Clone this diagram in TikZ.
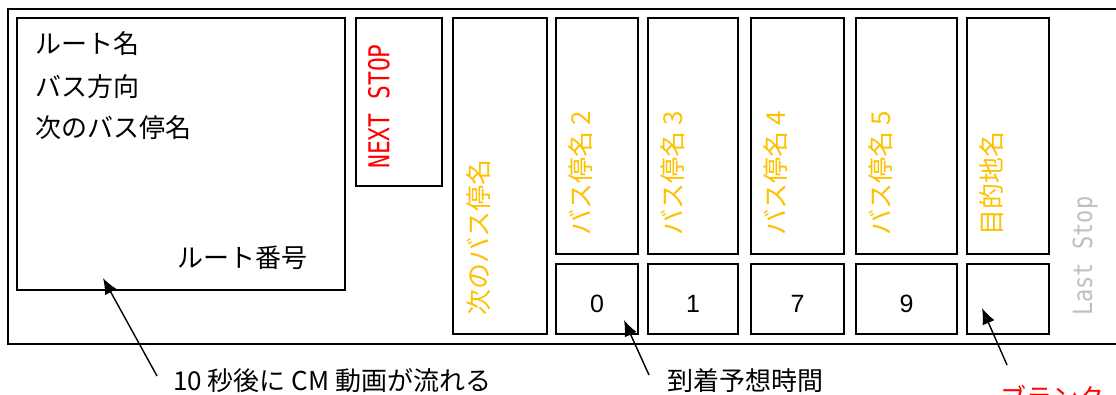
\documentclass[tikz,border=0pt]{standalone}
\usepackage{fontspec}
\usepackage{graphicx}
\setmainfont{Noto Sans CJK JP}
\newfontfamily\monofont{DejaVu Sans Mono}
\newfontfamily\numfont{Liberation Sans}
\usetikzlibrary{arrows.meta}
\definecolor{stoporange}{HTML}{FFC000}
\definecolor{laststop}{HTML}{BFBFBF}

\begin{document}
\begin{tikzpicture}[x=1pt, y=-1pt,
    panel/.style={draw, line width=1.6pt},
    jp/.style={font=\fontsize{26}{30}\selectfont, inner sep=0pt},
    stopname/.style={jp, text=stoporange, rotate=90, anchor=north west},
    eta/.style={font=\numfont\fontsize{25}{28}\selectfont, inner sep=0pt},
    callout/.style={-{Latex[length=16pt,width=13pt]}, line width=1.4pt}]
    \useasboundingbox (0,0) rectangle (1116,394);

    % Outer frame (runs off the right edge)
    \draw[panel] (8,9) rectangle (1140,344);

    % Route panel
    \draw[panel] (17,18) rectangle (345,290);
    \node[jp, anchor=west] (routeName) at (35,44) {ルート名};
    \node[jp, anchor=west] (direction) at (35,87) {バス方向};
    \node[jp, anchor=west] (nextName) at (35,128) {次のバス停名};
    \node[jp, anchor=west] (routeNo) at (177,258) {ルート番号};

    % NEXT STOP
    \draw[panel] (356,18) rectangle (442,186);
    \node[font=\monofont\fontsize{23}{26}\selectfont, text=red, rotate=90, anchor=west, inner sep=0pt]
        (nextStop) at (379,169) {\scalebox{1}[1.25]{NEXT STOP}};

    % Next stop column
    \draw[panel] (453,18) rectangle (547,334);
    \node[stopname] (nextCol) at (466,316) {次のバス停名};

    % Upcoming stops with arrival minutes
    \foreach \l/\r/\txt/\mins [count=\i] in {556/638/{バス停名 2}/0, 648/738/{バス停名 3}/1,
        751/844/{バス停名 4}/7, 856/957/{バス停名 5}/9, 967/1049/{目的地名}/{}} {
        \draw[panel] (\l,18) rectangle (\r,254);
        \draw[panel] (\l,264) rectangle (\r,334);
        \node[stopname] (stop\i) at (\l+12,236) {\txt};
        \node[eta] (eta\i) at ({(\l+\r)/2},304) {\mins};
    }

    % Last stop
    \node[font=\monofont\fontsize{22}{26}\selectfont, text=laststop, rotate=90, anchor=west, inner sep=0pt]
        (lastStop) at (1085,316) {\scalebox{1}[1.2]{Last Stop}};

    % Callouts
    \coordinate (tipCM) at (103,278);
    \coordinate (tipEta) at (624,320);
    \coordinate (tipBlank) at (982,308);
    \node[jp, anchor=west] (noteCM) at (173,381) {10 秒後に CM 動画が流れる};
    \node[jp, anchor=west] (noteEta) at (667,381) {到着予想時間};
    \node[jp, anchor=west, text=red] (noteBlank) at (1000,397) {ブランク};
    \draw[callout] ([xshift=-16pt,yshift=5pt]noteCM.west) -- (tipCM);
    \draw[callout] ([xshift=-18pt,yshift=6pt]noteEta.west) -- (tipEta);
    \draw[callout] ([xshift=7pt,yshift=32pt]noteBlank.west) -- (tipBlank);
\end{tikzpicture}
\end{document}
